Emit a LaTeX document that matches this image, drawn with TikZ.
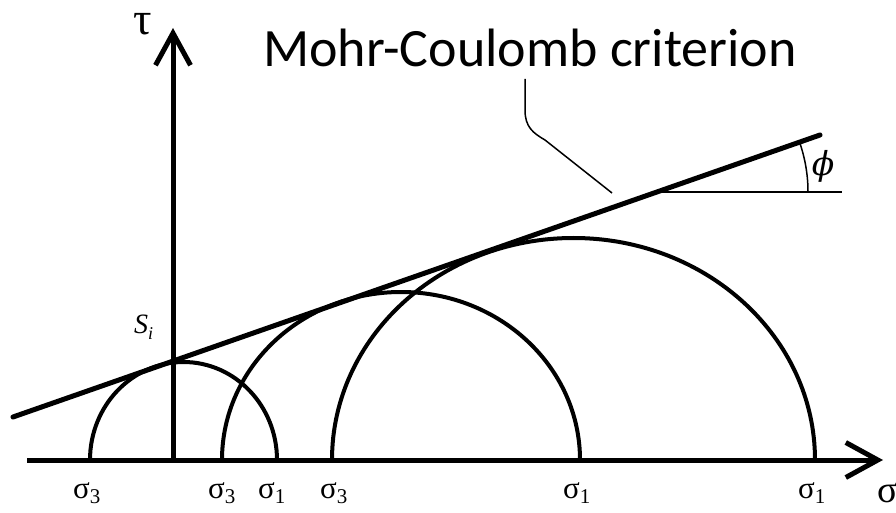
\documentclass[tikz,border=0pt]{standalone}
\usepackage{fontspec}
\setmainfont{Liberation Serif}
\newfontfamily\calib{Carlito}
\newfontfamily\dvs{DejaVu Serif}
\usetikzlibrary{arrows.meta}
\tikzset{
  axisline/.style={line width=5pt, -{Straight Barb[length=32pt,width=35pt]}},
  mohrcircle/.style={line width=4pt},
  envelope/.style={line width=5pt, line cap=round},
  thinline/.style={line width=1.5pt},
  siglabel/.style={anchor=base west, inner sep=0pt, font=\fontsize{31}{31}\selectfont},
}
\newcommand{\sg}[1]{σ{\fontsize{21}{21}\selectfont\raisebox{-5pt}{#1}}}
\begin{document}
\begin{tikzpicture}[x=1pt,y=1pt]
\useasboundingbox (0,0) rectangle (896,512);
% axes
\coordinate (o) at (173,52);
\coordinate (xl) at (27,52);
\coordinate (xr) at (883,52);
\coordinate (yt) at (173,484);
\draw[axisline] (xl) -- (xr);
\draw[axisline] (o) -- (yt);
% Mohr circles
\coordinate (c1l) at (90,52);
\coordinate (c2l) at (222,52);
\coordinate (c3l) at (332,52);
\draw[mohrcircle] (c1l) arc[start angle=180, end angle=0, x radius=93.5, y radius=98];
\draw[mohrcircle] (c2l) arc[start angle=180, end angle=0, x radius=179, y radius=168];
\draw[mohrcircle] (c3l) arc[start angle=180, end angle=0, x radius=241.5, y radius=222];
% failure envelope
\coordinate (ea) at (13,95);
\coordinate (eb) at (820,377);
\draw[envelope] (ea) -- (eb);
% angle phi
\coordinate (pc) at (657,320);
\coordinate (pe) at (842,320);
\draw[thinline] (pc) -- (pe);
\draw[thinline] (808,320) arc[start angle=0, end angle=19.26, radius=151];
\node[inner sep=0pt] (phi) at (823,346) {\dvs\itshape\fontsize{33}{33}\selectfont ϕ};
% leader
\coordinate (la) at (525,433);
\coordinate (lb) at (612,319);
\draw[thinline] (la) -- (525,402) .. controls (525,385) and (533,379) .. (545,372) -- (lb);
\node[anchor=base west, inner sep=0pt] (title) at (263,445) {\calib\fontsize{54}{54}\selectfont Mohr-Coulomb criterion};
% labels
\node[anchor=base, inner sep=0pt] (tau) at (143,477) {\fontsize{46}{46}\selectfont τ};
\node[anchor=base west, inner sep=0pt] (si) at (134,179) {\fontsize{28}{28}\selectfont\itshape S{\fontsize{18}{18}\selectfont\raisebox{-6pt}{i}}};
\node[siglabel] (s3a) at (73,14) {\sg{3}};
\node[siglabel] (s3b) at (208,14) {\sg{3}};
\node[siglabel] (s1a) at (258,14) {\sg{1}};
\node[siglabel] (s3c) at (320,14) {\sg{3}};
\node[siglabel] (s1b) at (563,14) {\sg{1}};
\node[siglabel] (s1c) at (798,14) {\sg{1}};
\node[anchor=base west, inner sep=0pt] (sig) at (877,10) {\fontsize{38}{38}\selectfont σ};
\end{tikzpicture}
\end{document}
